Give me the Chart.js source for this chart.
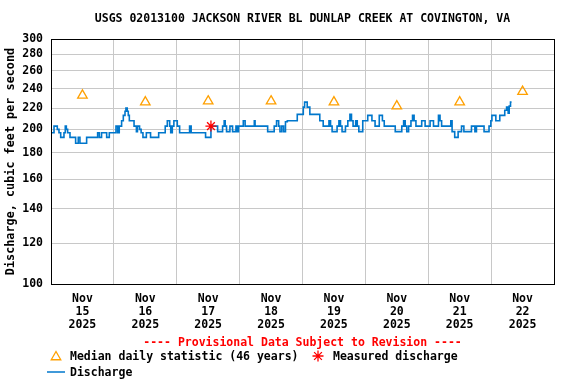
<!DOCTYPE html>
<html>
<head>
<meta charset="utf-8">
<script src="https://cdn.jsdelivr.net/npm/chart.js@4.4.1/dist/chart.umd.min.js"></script>
<style>
  html, body { margin: 0; padding: 0; background: #fff; }
  #wrap { width: 576px; height: 384px; }
</style>
</head>
<body>
<div id="wrap"><canvas id="flowChart" width="576" height="384"></canvas></div>
<script>
const titleText = 'USGS 02013100 JACKSON RIVER BL DUNLAP CREEK AT COVINGTON, VA';
const yAxisTitle = 'Discharge, cubic feet per second';
const provisionalText = '---- Provisional Data Subject to Revision ----';
const legendMedian = 'Median daily statistic (46 years)';
const legendMeasured = 'Measured discharge';
const legendDischarge = 'Discharge';

// x values are hours since Nov 15 2025 00:00, each value holds until the next change
const dischargeHours = [
  0, 1.15, 2.4, 3.05, 3.7, 4.95, 5.45, 5.85, 6.35, 7.25, 9.4, 10.4, 11.05, 13.6, 17.8, 18.45,
  19.3, 21.25, 22.25, 24.8, 25.45, 26.05, 26.95, 27.6, 28.25, 28.6, 29.1, 29.5, 29.9, 31.7,
  32.6, 33.0, 33.8, 34.4, 35.1, 36.4, 38.0, 41.1, 43.6, 44.4, 45.3, 45.7, 46.3, 46.9, 48.2,
  49.1, 52.9, 53.5, 59.0, 61.05, 63.6, 65.5, 66.1, 66.5, 67.0, 68.3, 69.3, 70.6, 71.2, 71.6,
  73.4, 74.1, 77.6, 77.9, 82.7, 85.2, 86.1, 86.9, 87.4, 88.1, 88.8, 89.5, 90.2, 94.0, 96.3,
  96.8, 97.8, 98.8, 102.6, 103.9, 106.1, 106.7, 107.3, 109.2, 109.9, 110.5, 111.1, 112.4,
  113.3, 114.1, 114.7, 115.3, 116.3, 116.9, 117.5, 119.0, 120.9, 122.5, 123.7, 125.3, 126.5,
  127.2, 131.4, 133.9, 134.6, 135.2, 135.8, 136.5, 137.4, 138.0, 138.6, 139.3, 141.5, 142.8,
  144.7, 146.0, 147.9, 148.5, 149.1, 152.6, 153.1, 154.1, 155.4, 156.7, 157.6, 160.5, 161.8,
  162.4, 165.3, 167.2, 167.9, 168.3, 169.8, 171.3, 173.2, 173.9, 174.5, 174.9, 175.4, 175.8
];
const dischargeCfs = [
  197, 203, 200, 197, 193, 197, 203, 200, 197, 193, 188, 193, 188, 193, 197, 193,
  197, 193, 197, 203, 197, 203, 208, 213, 217, 220, 217, 213, 208, 203,
  198, 203, 200, 197, 193, 197, 193, 197, 203, 208, 203, 197, 203, 208, 203,
  197, 203, 197, 193, 203, 198, 203, 208, 203, 198, 203, 198, 203, 198, 203,
  208, 203, 208, 203, 198, 203, 208, 203, 198, 203, 198, 207, 208, 214, 221,
  226, 221, 214, 208, 203, 208, 203, 198, 203, 208, 203, 198, 203,
  208, 214, 208, 203, 208, 203, 198, 208, 213, 208, 203, 213, 208,
  203, 198, 203, 208, 203, 198, 203, 208, 213, 208, 203, 208, 203,
  208, 203, 213, 208, 203, 208, 198, 193, 198, 203, 198, 203, 198,
  203, 198, 203, 208, 213, 208, 213, 218, 221, 215, 222, 226, 226
];
const medianHours = [12, 36, 60, 84, 108, 132, 156, 180];
const medianCfs = [233, 226, 227, 227, 226, 222, 226, 237];
const measuredHours = [61.05];
const measuredCfs = [203];

const gridHours = [0, 24, 48, 72, 96, 120, 144, 168, 192];
const labelHours = [12, 36, 60, 84, 108, 132, 156, 180];
const monthLabel = 'Nov';
const dayLabels = ['15', '16', '17', '18', '19', '20', '21', '22'];
const yearLabel = '2025';
const yTicks = [100, 120, 140, 160, 180, 200, 220, 240, 260, 280, 300];

const blue = 'rgb(0,119,204)';
const orange = '#ffa000';
const red = '#ff0000';
const gridGray = '#c8c8c8';
const monoFont = "'DejaVu Sans Mono', 'Liberation Mono', monospace";

Chart.defaults.color = '#000';
Chart.defaults.font.family = monoFont;
Chart.defaults.font.weight = 'bold';
Chart.defaults.font.size = 11.5;

// frame, title, provisional note and legend
const decorPlugin = {
  id: 'decor',
  afterDraw(chart) {
    const { ctx, chartArea } = chart;
    const cx = (chartArea.left + chartArea.right) / 2;
    ctx.save();
    ctx.strokeStyle = '#000';
    ctx.lineWidth = 1;
    ctx.strokeRect(Math.round(chartArea.left) + 0.5, Math.round(chartArea.top) + 0.5,
      Math.round(chartArea.right - chartArea.left), Math.round(chartArea.bottom - chartArea.top));

    ctx.font = 'bold 11.5px ' + monoFont;
    ctx.textBaseline = 'middle';
    ctx.textAlign = 'center';
    ctx.fillStyle = '#000';
    ctx.fillText(titleText, cx, 19);
    ctx.fillStyle = red;
    ctx.fillText(provisionalText, cx, 343);

    ctx.textAlign = 'left';
    ctx.fillStyle = 'rgba(0,0,0,0)';
    ctx.strokeStyle = orange;
    ctx.lineWidth = 1.3;
    Chart.helpers.drawPoint(ctx, { pointStyle: 'triangle', radius: 5.5, borderWidth: 1.3 }, 56, 357);
    ctx.strokeStyle = red;
    Chart.helpers.drawPoint(ctx, { pointStyle: 'star', radius: 5.5, borderWidth: 1.3 }, 318, 356);
    ctx.strokeStyle = blue;
    ctx.lineWidth = 1.5;
    ctx.beginPath();
    ctx.moveTo(47, 372);
    ctx.lineTo(65, 372);
    ctx.stroke();

    ctx.fillStyle = '#000';
    ctx.fillText(legendMedian, 70, 357);
    ctx.fillText(legendMeasured, 333, 357);
    ctx.fillText(legendDischarge, 70, 373);
    ctx.restore();
  }
};

const ctx = document.getElementById('flowChart').getContext('2d');
new Chart(ctx, {
  data: {
    datasets: [
      {
        type: 'scatter',
        label: legendMeasured,
        data: measuredHours.map((h, i) => ({ x: h, y: measuredCfs[i] })),
        pointStyle: 'star',
        pointRadius: 5.5,
        borderColor: red,
        borderWidth: 1.3,
        order: 0
      },
      {
        type: 'scatter',
        label: legendMedian,
        data: medianHours.map((h, i) => ({ x: h, y: medianCfs[i] })),
        pointStyle: 'triangle',
        pointRadius: 5.5,
        borderColor: orange,
        backgroundColor: 'rgba(0,0,0,0)',
        borderWidth: 1.3,
        order: 1
      },
      {
        type: 'line',
        label: legendDischarge,
        data: dischargeHours.map((h, i) => ({ x: h, y: dischargeCfs[i] })),
        stepped: true,
        borderColor: blue,
        borderWidth: 1.6,
        pointRadius: 0,
        fill: false,
        order: 2
      }
    ]
  },
  options: {
    responsive: false,
    animation: false,
    devicePixelRatio: 1,
    layout: { padding: { left: 0, right: 22, top: 39, bottom: 0 } },
    plugins: {
      legend: { display: false },
      tooltip: { enabled: false }
    },
    scales: {
      x: {
        type: 'linear',
        min: 0,
        max: 192,
        afterBuildTicks: scale => { scale.ticks = gridHours.concat(labelHours).sort((a, b) => a - b).map(v => ({ value: v })); },
        afterFit: scale => { scale.height = 100; },
        grid: {
          drawTicks: false,
          color: c => (c.tick && gridHours.includes(c.tick.value)) ? gridGray : 'rgba(0,0,0,0)',
          lineWidth: 1
        },
        border: { color: '#000', width: 1 },
        ticks: {
          autoSkip: false,
          maxRotation: 0,
          padding: 9,
          font: { size: 11.5, weight: 'bold', lineHeight: '13px' },
          callback: value => {
            const i = labelHours.indexOf(value);
            return i >= 0 ? [monthLabel, dayLabels[i], yearLabel] : '';
          }
        }
      },
      y: {
        type: 'logarithmic',
        min: 100,
        max: 300,
        afterBuildTicks: scale => { scale.ticks = yTicks.map(v => ({ value: v })); },
        afterFit: scale => { scale.width = 51; },
        grid: { drawTicks: false, color: gridGray, lineWidth: 1 },
        border: { color: '#000', width: 1 },
        ticks: {
          padding: 8,
          font: { size: 11.5, weight: 'bold' },
          callback: value => String(value)
        },
        title: {
          display: true,
          text: yAxisTitle,
          font: { size: 11.8, weight: 'bold' },
          padding: { top: 4, bottom: 0 }
        }
      }
    }
  },
  plugins: [decorPlugin]
});
</script>
</body>
</html>
